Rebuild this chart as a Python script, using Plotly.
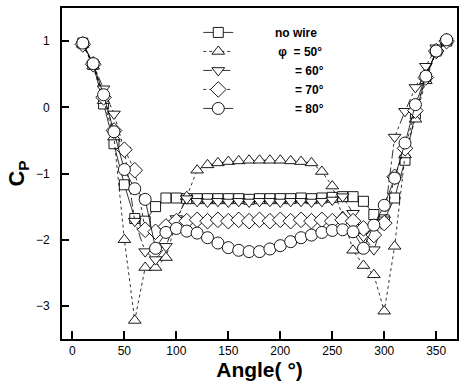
import plotly.graph_objects as go

angles = [10, 20, 30, 40, 50, 60, 70, 80, 90, 100, 110, 120, 130, 140, 150, 160, 170, 180,
          190, 200, 210, 220, 230, 240, 250, 260, 270, 280, 290, 300, 310, 320, 330, 340, 350, 360]

no_wire = [0.97, 0.65, 0.05, -0.55, -1.17, -1.68, -1.72, -1.50, -1.37, -1.37,
           -1.38, -1.38, -1.38, -1.38, -1.38, -1.38, -1.39, -1.38, -1.38, -1.38,
           -1.38, -1.37, -1.38, -1.37, -1.36, -1.35, -1.35, -1.42, -1.62, -1.70,
           -1.37, -0.80, -0.10, 0.45, 0.85, 1.00]
phi50 = [0.95, 0.62, 0.10, -0.45, -2.00, -3.22, -2.42, -2.42, -2.27, -1.72,
         -1.35, -0.95, -0.87, -0.84, -0.82, -0.81, -0.80, -0.80, -0.80, -0.80,
         -0.81, -0.82, -0.84, -0.97, -1.19, -1.65, -2.16, -2.39, -2.53, -3.08,
         -2.10, -0.72, -0.18, 0.40, 0.85, 1.00]
phi60 = [0.95, 0.65, 0.28, -0.10, -0.65, -1.72, -2.18, -2.30, -2.10, -1.68,
         -1.38, -1.42, -1.43, -1.42, -1.43, -1.42, -1.43, -1.42, -1.42, -1.43,
         -1.42, -1.42, -1.43, -1.42, -1.40, -1.35, -1.60, -1.95, -2.15, -1.70,
         -0.45, -0.06, 0.30, 0.62, 0.90, 1.00]
phi70 = [0.95, 0.65, 0.15, -0.35, -0.64, -0.95, -1.85, -1.88, -1.80, -1.72,
         -1.72, -1.70, -1.72, -1.70, -1.72, -1.70, -1.72, -1.70, -1.72, -1.70,
         -1.72, -1.70, -1.72, -1.70, -1.72, -1.70, -1.72, -1.83, -1.93, -1.75,
         -1.05, -0.62, -0.05, 0.45, 0.85, 1.00]
phi80 = [0.97, 0.66, 0.19, -0.37, -0.94, -1.23, -1.39, -2.13, -1.89, -1.83,
         -1.87, -1.90, -1.97, -2.05, -2.12, -2.16, -2.18, -2.18, -2.14, -2.09,
         -2.03, -1.97, -1.93, -1.89, -1.86, -1.85, -1.88, -2.13, -1.78, -1.48,
         -1.07, -0.54, 0.04, 0.47, 0.85, 1.02]

NB = "\u00a0"
names = [NB * 11 + "no wire",
         NB * 12 + "\u03c6" + NB * 2 + "= 50\u00b0",
         NB * 17 + "= 60\u00b0",
         NB * 17 + "= 70\u00b0",
         NB * 17 + "= 80\u00b0"]
series = [no_wire, phi50, phi60, phi70, phi80]
symbols = ["square", "triangle-up", "triangle-down", "diamond", "circle"]
sizes = [10, 11, 11, 12, 12]
dashes = ["solid", "dot", "dashdot", "dot", "solid"]

fig = go.Figure()
for nm, ys, sym, sz, ds in zip(names, series, symbols, sizes, dashes):
    fig.add_trace(go.Scatter(
        x=angles, y=ys, name=nm, mode="lines+markers",
        line=dict(color="black", width=0.8, dash=ds),
        marker=dict(symbol=sym, size=sz, color="white",
                    line=dict(color="black", width=0.9)),
    ))

fig.update_layout(
    width=460, height=381,
    margin=dict(l=62, r=1, t=8, b=42),
    paper_bgcolor="white", plot_bgcolor="white",
    font=dict(family="Liberation Sans, Arial, sans-serif", color="black", size=11),
    showlegend=True,
    legend=dict(x=0.345, y=0.97, xanchor="left", yanchor="top",
                bgcolor="rgba(0,0,0,0)",
                font=dict(size=12, family="Liberation Sans, Arial", weight="bold"),
                itemwidth=30, tracegroupgap=0),
    xaxis=dict(range=[-10, 370], tickmode="array", tickvals=[0, 50, 100, 150, 200, 250, 300, 350],
               ticks="inside", ticklen=8, tickwidth=1.5, tickcolor="black",
               showline=True, linewidth=2, linecolor="black", mirror=True,
               showgrid=False, zeroline=False,
               tickfont=dict(size=12),
               title=dict(text="<b>Angle( \u00b0)</b>", font=dict(size=21), standoff=6)),
    yaxis=dict(range=[-3.5, 1.5], tickmode="array", tickvals=[-3, -2, -1, 0, 1],
               ticks="inside", ticklen=7, tickwidth=1.5, tickcolor="black",
               showline=True, linewidth=2, linecolor="black", mirror=True,
               showgrid=False, zeroline=False,
               tickfont=dict(size=12), ticklabelstandoff=8,
               title=dict(text="<b>C<sub>P</sub></b>", font=dict(size=22), standoff=5)),
)

fig.write_html("out.html")
